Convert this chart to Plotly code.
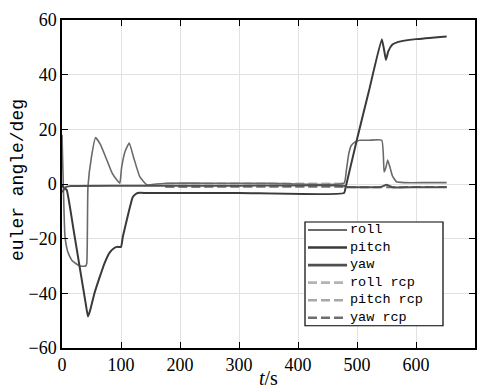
import plotly.graph_objects as go

# ---------------- data ----------------
roll_t = [0, 2, 5, 10, 17, 30, 40, 42, 44, 50, 57, 65, 76, 85, 93, 98, 101, 107, 114, 121,
          132, 144, 160, 180, 250, 350, 478, 482, 486, 490, 497, 505, 520, 542, 546, 549,
          552, 556, 560, 567, 580, 620, 652]
roll_y = [18, 1.5, -19, -25, -28, -30, -30, -29, -1, 10, 17, 14.5, 8.8, 4, 1.5, 0.3, 6, 12,
          15, 10, 2.6, -0.3, 0, 0.3, 0.3, 0.3, 0.3, 5, 11, 14, 15.4, 16, 16, 16, 4.4, 6,
          8.8, 6, 3, 0.8, 0.5, 0.5, 0.5]

pitch_t = [0, 4, 8, 20, 30, 40, 44, 48, 55, 64, 72, 81, 88, 93, 100, 103, 110, 120, 126,
           132, 145, 165, 300, 478, 481, 500, 520, 542, 546, 549, 553, 560, 570, 600, 652]
pitch_y = [-0.5, -1.5, -2.2, -17.3, -30.4, -43.5, -48.5, -46, -40, -34, -29, -25, -23.5,
           -23, -23, -19.4, -13, -4.8, -3.5, -3.2, -3.3, -3.3, -3.3, -3.3, -1, 16.4, 33.8,
           53, 49, 45.4, 48.5, 51, 52, 53, 54]

yaw_t = [0, 4, 8, 15, 100, 200, 300, 478, 482, 540, 545, 550, 555, 560, 600, 652]
yaw_y = [-3, -1.8, -1, -0.7, -0.6, -0.6, -0.6, -0.6, -1.1, -1.1, -0.7, -0.3, -0.7, -1.2,
         -1.2, -1.2]

roll_rcp_t = [175, 480]
roll_rcp_y = [0.2, 0.2]
pitch_rcp_t = [175, 480]
pitch_rcp_y = [-1, -1]
yaw_rcp_t = [175, 480, 482, 652]
yaw_rcp_y = [-1, -1, -1.1, -1.1]

series_names = ["roll", "pitch", "yaw", "roll rcp", "pitch rcp", "yaw rcp"]

x_ticks = [0, 100, 200, 300, 400, 500, 600, 700]
y_ticks = [-60, -40, -20, 0, 20, 40, 60]
x_title = "<i>t</i>/s"
y_title = "euler angle/deg"

# ---------------- styles ----------------
DASH = "9px,4px"
styles = [
    dict(color="#6a6a6a", width=1.6, dash="solid"),
    dict(color="#3a3a3a", width=2.0, dash="solid"),
    dict(color="#505050", width=2.0, dash="solid"),
    dict(color="#b4b4b4", width=2.0, dash=DASH),
    dict(color="#a8a8a8", width=2.0, dash=DASH),
    dict(color="#6e6e6e", width=2.0, dash=DASH),
]
xs = [roll_t, pitch_t, yaw_t, roll_rcp_t, pitch_rcp_t, yaw_rcp_t]
ys = [roll_y, pitch_y, yaw_y, roll_rcp_y, pitch_rcp_y, yaw_rcp_y]

SERIF = "'Liberation Serif', 'Times New Roman', serif"
MONO = "'Liberation Mono', monospace"

fig = go.Figure()
# draw order: rcp first (under), then solid lines
for i in [3, 4, 5, 0, 1, 2]:
    fig.add_trace(go.Scatter(x=xs[i], y=ys[i], mode="lines", name=series_names[i],
                             line=dict(color=styles[i]["color"], width=styles[i]["width"],
                                       dash=styles[i]["dash"]),
                             line_shape="spline", line_smoothing=0.4,
                             showlegend=False))

W, H = 487, 390
L, R, T, B = 62, 12, 20, 42
pw, ph = W - L - R, H - T - B

def px(xp):
    return (xp - L) / pw

def py(yp):
    return (H - B - yp) / ph

# manual compact legend (like the reference)
LEG_FS = 13.5
line_h = LEG_FS * 1.3
row0 = 230
row_y = [row0 + k * line_h for k in range(len(series_names))]
shapes = [dict(type="rect", xref="paper", yref="paper",
               x0=px(305), x1=px(443), y0=py(row_y[-1] + 8), y1=py(row0 - 8),
               line=dict(color="black", width=1.2), fillcolor="white", layer="above")]
for i, name in enumerate(series_names):
    shapes.append(dict(type="line", xref="paper", yref="paper",
                       x0=px(308), x1=px(347), y0=py(row_y[i]), y1=py(row_y[i]),
                       line=dict(color=styles[i]["color"], width=styles[i]["width"] + 0.6,
                                 dash=styles[i]["dash"]), layer="above"))
annotations = [dict(text="<br>".join(series_names), xref="paper", yref="paper",
                    x=px(349), y=py((row_y[0] + row_y[-1]) / 2),
                    xanchor="left", yanchor="middle", align="left",
                    showarrow=False, borderpad=0,
                    font=dict(family=MONO, size=LEG_FS, color="black"))]

# axis titles placed as annotations for exact positioning
annotations.append(dict(text=x_title, xref="paper", yref="paper",
                        x=0.5, y=py(378), xanchor="center", yanchor="middle",
                        showarrow=False, font=dict(family=SERIF, size=20, color="black")))
annotations.append(dict(text=y_title, xref="paper", yref="paper",
                        x=px(18), y=py(180), xanchor="center", yanchor="middle",
                        textangle=-90, showarrow=False,
                        font=dict(family=MONO, size=18, color="black")))

axis_common = dict(showline=True, linecolor="black", linewidth=1.5, mirror="ticks",
                   ticks="inside", ticklen=6, tickwidth=1.3, tickcolor="black",
                   showgrid=True, gridcolor="#e2e2e2", gridwidth=1.2, zeroline=False,
                   automargin=False,
                   tickfont=dict(family=SERIF, size=18, color="black"))

fig.update_layout(
    width=W, height=H,
    margin=dict(l=L, r=R, t=T, b=B),
    font=dict(family=SERIF, size=18, color="black"),
    paper_bgcolor="white", plot_bgcolor="white",
    xaxis=dict(range=[0, 700], tickvals=x_ticks, **axis_common),
    yaxis=dict(range=[-60, 60], tickvals=y_ticks, **axis_common),
    shapes=shapes,
    annotations=annotations,
)

fig.write_html("out.html", config={"displayModeBar": False},
               post_script="document.body.style.margin='0';document.body.style.padding='0';"
                           "document.body.style.overflow='hidden';")
